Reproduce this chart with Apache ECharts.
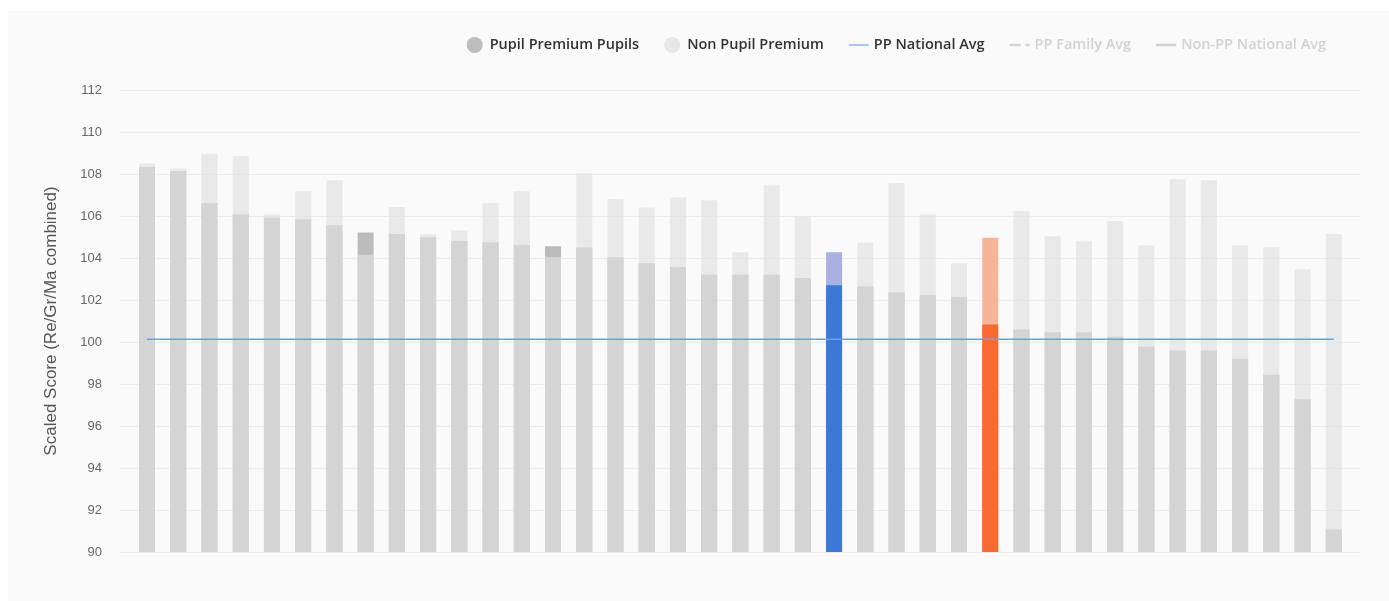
<!DOCTYPE html>
<html>
<head>
<meta charset="utf-8">
<script src="https://cdn.jsdelivr.net/npm/echarts@6/dist/echarts.min.js"></script>
<style>
  html, body { margin: 0; padding: 0; background: #ffffff; }
  #chart { position: absolute; left: 8px; top: 11px; width: 1381px; height: 590px; background: #fafafa; }
</style>
</head>
<body>
<div id="chart"></div>
<script>
// ---------- data ----------
const categories = [
  'S1','S2','S3','S4','S5','S6','S7','S8','S9','S10',
  'S11','S12','S13','S14','S15','S16','S17','S18','S19','S20',
  'S21','S22','S23','S24','S25','S26','S27','S28','S29','S30',
  'S31','S32','S33','S34','S35','S36','S37','S38','S39'
];
const ppScores = [
  108.33, 108.14, 106.62, 106.08, 105.92, 105.84, 105.56, 105.21, 105.14, 104.99,
  104.81, 104.75, 104.62, 104.56, 104.50, 104.03, 103.75, 103.57, 103.22, 103.22,
  103.22, 103.05, 102.70, 102.65, 102.37, 102.24, 102.14, 100.83, 100.59, 100.47,
  100.47, 100.25, 99.79, 99.60, 99.60, 99.20, 98.44, 97.27, 91.08
];
const nonPpScores = [
  108.50, 108.26, 108.97, 108.86, 106.07, 107.18, 107.70, 104.16, 106.43, 105.13,
  105.32, 106.62, 107.18, 104.05, 108.03, 106.81, 106.41, 106.88, 106.75, 104.27,
  107.46, 105.99, 104.27, 104.73, 107.57, 106.07, 103.75, 104.97, 106.24, 105.03,
  104.80, 105.76, 104.60, 107.75, 107.70, 104.60, 104.51, 103.46, 105.14
];
const ppNationalAvg = 100.13;
const ppFamilyAvg = 102.6;        // hidden series (legend unselected)
const nonPpNationalAvg = 105.6;   // hidden series (legend unselected)
const yTicks = [90, 92, 94, 96, 98, 100, 102, 104, 106, 108, 110, 112];
const highlightIndex = [22, 27];

// ---------- styles ----------
const highlightStyles = {
  22: { pp: '#3b78d8', nonPp: '#a8b1e0' },
  27: { pp: '#f96a31', nonPp: '#f6b498' }
};
const greyPP = '#bcbcbc';
const greyNonPP = 'rgba(224,224,224,0.68)';

const chart = echarts.init(document.getElementById('chart'), null, { renderer: 'canvas' });

const nonPpHighlightData = nonPpScores.map((v, i) =>
  highlightIndex.includes(i) ? { value: v, itemStyle: { color: highlightStyles[i].nonPp } } : '-');
const ppData = ppScores.map((v, i) =>
  highlightIndex.includes(i) ? { value: v, itemStyle: { color: highlightStyles[i].pp } } : v);
const nonPpData = nonPpScores.map((v, i) => highlightIndex.includes(i) ? '-' : v);
// constant reference lines, one point per category
const ppNationalLine = categories.map(() => ppNationalAvg);
const ppFamilyLine = categories.map(() => ppFamilyAvg);
const nonPpNationalLine = categories.map(() => nonPpNationalAvg);

const yMin = yTicks[0], yMax = yTicks[yTicks.length - 1];
const legendFont = '"Open Sans", Roboto, sans-serif';
const axisFont = '"Liberation Sans", Arial, sans-serif';

chart.setOption({
  animation: false,
  backgroundColor: '#fafafa',
  legend: {
    top: 21,
    right: 58,
    itemWidth: 20,
    itemHeight: 16,
    itemGap: 25,
    inactiveColor: '#d2d2d2',
    textStyle: { fontSize: 14.5, fontWeight: 600, color: '#333333', fontFamily: legendFont },
    selected: { 'PP Family Avg': false, 'Non-PP National Avg': false },
    data: [
      { name: 'Pupil Premium Pupils', icon: 'circle', itemStyle: { color: '#bdbdbd' } },
      { name: 'Non Pupil Premium', icon: 'circle', itemStyle: { color: '#e7e7e7' } },
      { name: 'PP National Avg', icon: 'path://M0,0h20v2h-20z', itemStyle: { color: '#a8c7f2', borderWidth: 0 } },
      { name: 'PP Family Avg', icon: 'path://M0,0h9v2h-9z M13,0h3v2h-3z', itemStyle: { color: '#d2d2d2', borderWidth: 0 } },
      { name: 'Non-PP National Avg', icon: 'path://M0,0h16v2h-16z', itemStyle: { color: '#d2d2d2', borderWidth: 0 } }
    ]
  },
  grid: [
    { left: 112, width: 1240, top: 79, height: 462 },
    { left: 123.4, width: 1218, top: 79, height: 462 }
  ],
  xAxis: [
    { type: 'category', gridIndex: 0, data: categories, show: false },
    {
      type: 'category', gridIndex: 1, data: categories,
      axisLine: { show: false }, axisTick: { show: false }, axisLabel: { show: false }
    }
  ],
  yAxis: [
    {
      type: 'value', gridIndex: 0, min: yMin, max: yMax, interval: 2,
      name: 'Scaled Score (Re/Gr/Ma combined)',
      nameLocation: 'middle', nameGap: 60,
      nameTextStyle: { fontSize: 17, color: '#555555', fontFamily: axisFont },
      axisLine: { show: false }, axisTick: { show: false },
      axisLabel: { fontSize: 13, color: '#666666', margin: 18, fontFamily: axisFont },
      splitLine: { lineStyle: { color: '#ebebeb', width: 1 } }
    },
    {
      type: 'value', gridIndex: 1, min: yMin, max: yMax, interval: 2,
      show: false, splitLine: { show: false }
    }
  ],
  series: [
    {
      name: 'Non PP (highlight)', type: 'bar', xAxisIndex: 1, yAxisIndex: 1,
      barWidth: 16, barGap: '-100%', data: nonPpHighlightData, z: 2
    },
    {
      name: 'Pupil Premium Pupils', type: 'bar', xAxisIndex: 1, yAxisIndex: 1,
      barWidth: 16, barGap: '-100%', data: ppData, itemStyle: { color: greyPP }, z: 3
    },
    {
      name: 'Non Pupil Premium', type: 'bar', xAxisIndex: 1, yAxisIndex: 1,
      barWidth: 16, barGap: '-100%', data: nonPpData, itemStyle: { color: greyNonPP }, z: 4
    },
    {
      name: 'PP National Avg', type: 'line', xAxisIndex: 1, yAxisIndex: 1,
      data: ppNationalLine, symbol: 'none', silent: true, z: 6,
      itemStyle: { color: '#6c9ee8' },
      lineStyle: { color: '#6c9ee8', width: 1.5 }
    },
    {
      name: 'PP Family Avg', type: 'line', xAxisIndex: 1, yAxisIndex: 1,
      data: ppFamilyLine, symbol: 'none', silent: true, z: 6,
      itemStyle: { color: '#999999' },
      lineStyle: { color: '#999999', width: 1, type: 'dashed' }
    },
    {
      name: 'Non-PP National Avg', type: 'line', xAxisIndex: 1, yAxisIndex: 1,
      data: nonPpNationalLine, symbol: 'none', silent: true, z: 6,
      itemStyle: { color: '#aaaaaa' },
      lineStyle: { color: '#aaaaaa', width: 1 }
    }
  ]
});
</script>
</body>
</html>
